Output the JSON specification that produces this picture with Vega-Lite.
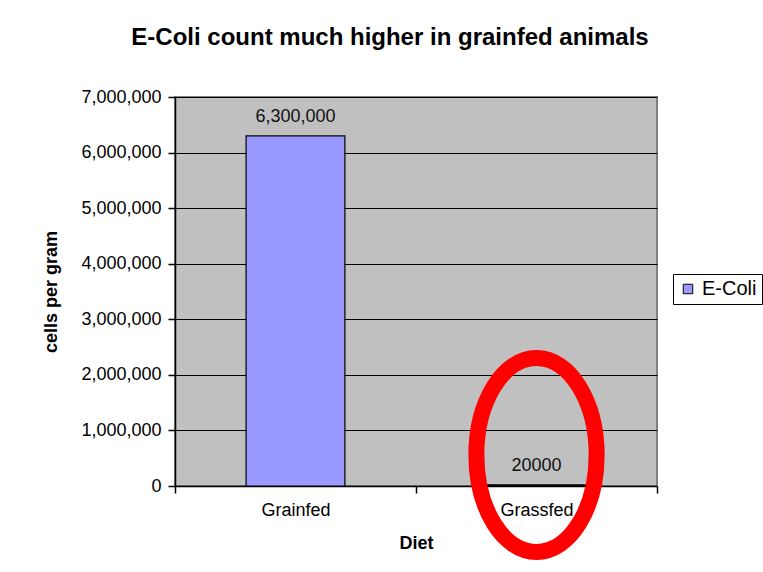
{
  "$schema": "https://vega.github.io/schema/vega-lite/v6.json",
  "autosize": "none",
  "width": 482,
  "height": 389,
  "padding": {"left": 175, "top": 97, "right": 106, "bottom": 86},
  "background": "white",
  "title": {
    "text": "E-Coli count much higher in grainfed animals",
    "font": "Liberation Sans",
    "fontSize": 24,
    "fontWeight": "bold",
    "color": "black",
    "anchor": "middle",
    "baseline": "alphabetic",
    "offset": 19,
    "dx": -26
  },
  "datasets": {
    "bars": [
      {"Diet": "Grainfed", "count": 6300000, "label": "6,300,000", "series": "E-Coli"},
      {"Diet": "Grassfed", "count": 20000, "label": "20000", "series": "E-Coli"}
    ],
    "annotation": [
      {"Diet": "Grassfed", "count": 558000}
    ]
  },
  "config": {
    "view": {"fill": "#C0C0C0", "stroke": "#808080", "strokeWidth": 2},
    "font": "Liberation Sans",
    "axis": {
      "labelFont": "Liberation Sans",
      "titleFont": "Liberation Sans",
      "labelColor": "black",
      "titleColor": "black",
      "domainColor": "black",
      "tickColor": "black",
      "gridColor": "black",
      "gridOpacity": 1,
      "gridWidth": 1,
      "domainWidth": 1.5,
      "tickWidth": 1.5,
      "labelFontSize": 18,
      "titleFontSize": 18,
      "titleFontWeight": "bold"
    }
  },
  "layer": [
    {
      "data": {"name": "bars"},
      "mark": {"type": "bar", "stroke": "black", "strokeWidth": 1.2, "width": {"band": 0.41}},
      "encoding": {
        "x": {
          "field": "Diet",
          "type": "nominal",
          "sort": ["Grainfed", "Grassfed"],
          "scale": {"paddingInner": 0, "paddingOuter": 0},
          "axis": {
            "title": "Diet",
            "labelAngle": 0,
            "tickBand": "extent",
            "tickSize": 7,
            "labelPadding": 8,
            "titlePadding": 15,
            "grid": false
          }
        },
        "y": {
          "field": "count",
          "type": "quantitative",
          "scale": {"domain": [0, 7000000], "nice": false},
          "axis": {
            "title": "cells per gram",
            "values": [0, 1000000, 2000000, 3000000, 4000000, 5000000, 6000000, 7000000],
            "format": ",d",
            "tickSize": 7,
            "labelPadding": 7,
            "titlePadding": 20,
            "grid": true
          }
        },
        "color": {
          "field": "series",
          "type": "nominal",
          "scale": {"range": ["#9999FF"]},
          "legend": {
            "title": null,
            "orient": "none",
            "legendX": 498,
            "legendY": 177,
            "symbolType": "square",
            "symbolSize": 90,
            "symbolStrokeColor": "black",
            "symbolStrokeWidth": 1,
            "labelFont": "Liberation Sans",
            "labelFontSize": 20,
            "labelColor": "black",
            "labelOffset": 4,
            "padding": 5,
            "fillColor": "white",
            "strokeColor": "black"
          }
        }
      }
    },
    {
      "data": {"name": "bars"},
      "mark": {"type": "text", "baseline": "alphabetic", "dy": -14, "fontSize": 18, "font": "Liberation Sans", "color": "#111111"},
      "encoding": {
        "x": {"field": "Diet", "type": "nominal", "sort": ["Grainfed", "Grassfed"]},
        "y": {"field": "count", "type": "quantitative"},
        "text": {"field": "label"}
      }
    },
    {
      "data": {"name": "annotation"},
      "mark": {
        "type": "point",
        "shape": "M -0.62 0 A 0.62 1 0 1 0 0.62 0 A 0.62 1 0 1 0 -0.62 0 Z",
        "size": 37636,
        "filled": false,
        "stroke": "#FF0000",
        "strokeWidth": 16,
        "opacity": 1
      },
      "encoding": {
        "x": {"field": "Diet", "type": "nominal", "sort": ["Grainfed", "Grassfed"]},
        "y": {"field": "count", "type": "quantitative"}
      }
    }
  ]
}
